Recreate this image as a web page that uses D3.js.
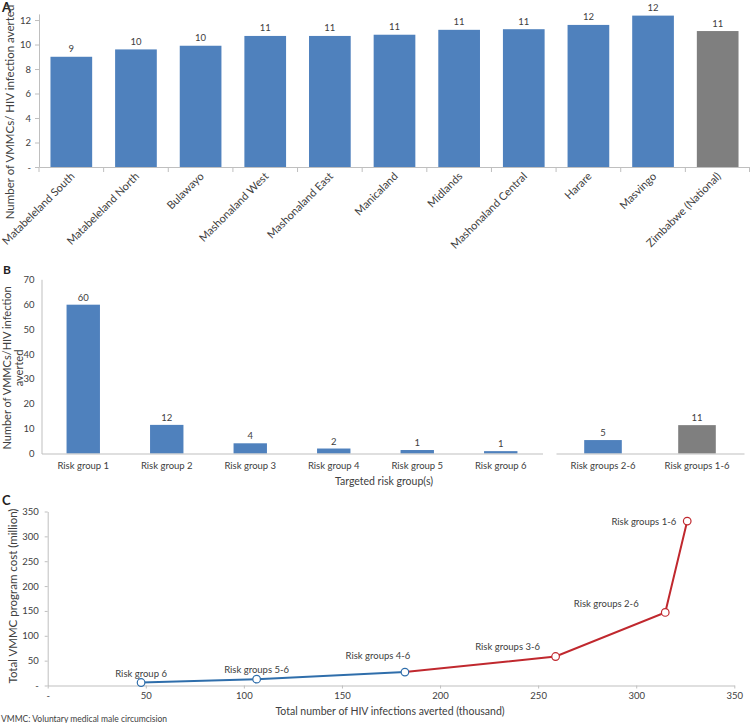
<!DOCTYPE html>
<html>
<head>
<meta charset="utf-8">
<script src="https://cdn.jsdelivr.net/npm/d3@7"></script>
<style>
  html, body { margin: 0; padding: 0; background: #fff; }
  svg { display: block; font-family: "Lato", "Open Sans", sans-serif; }
</style>
</head>
<body>
<svg id="chart" width="750" height="723"></svg>
<script>
// ---------- DATA ----------
// Panel A: VMMCs per HIV infection averted, by province
const provinces = ["Matabeleland South", "Matabeleland North", "Bulawayo", "Mashonaland West",
  "Mashonaland East", "Manicaland", "Midlands", "Mashonaland Central", "Harare", "Masvingo",
  "Zimbabwe (National)"];
const provinceValues = [9.0, 9.6, 9.9, 10.7, 10.7, 10.8, 11.2, 11.25, 11.6, 12.36, 11.1];
const provinceIsNational = [false, false, false, false, false, false, false, false, false, false, true];
const yTicksA = [0, 2, 4, 6, 8, 10, 12];

// Panel B: VMMCs per HIV infection averted, by targeted risk group(s)
const riskGroups = ["Risk group 1", "Risk group 2", "Risk group 3", "Risk group 4", "Risk group 5", "Risk group 6"];
const riskGroupValues = [59.8, 11.5, 4.1, 2.0, 1.4, 0.95];
const combinedGroups = ["Risk groups 2-6", "Risk groups 1-6"];
const combinedValues = [5.4, 11.4];
const combinedIsAll = [false, true];
const yTicksB = [0, 10, 20, 30, 40, 50, 60, 70];

// Panel C: cost vs infections averted
const curveLabels = ["Risk group 6", "Risk groups 5-6", "Risk groups 4-6", "Risk groups 3-6", "Risk groups 2-6", "Risk groups 1-6"];
const infectionsAverted = [47.6, 106.5, 182.1, 258.9, 314.8, 326.0];   // thousand
const programCost = [6.0, 12.8, 27.0, 58.3, 146.9, 330.7];              // million
const curveSegment = ["blue", "blue", "blue", "red", "red", "red"];
const xTicksC = [0, 50, 100, 150, 200, 250, 300, 350];
const yTicksC = [0, 50, 100, 150, 200, 250, 300, 350];

// ---------- STYLE ----------
const BLUE = "#4f81bd", GREY = "#7f7f7f", AXIS = "#bfbfbf", TXT = "#404040";
const LINE_BLUE = "#2f6eab", LINE_RED = "#c0282e";
const zeroDash = v => v === 0 ? "-" : String(v);
const fmtRound = d3.format(".0f");

const svg = d3.select("#chart");

function styleAxis(g, fs) {
  g.select(".domain").attr("stroke", AXIS);
  g.selectAll(".tick line").attr("stroke", AXIS);
  g.selectAll(".tick text").attr("fill", TXT).attr("font-size", fs).attr("font-family", "Lato, sans-serif");
}

// ================= PANEL A =================
{
  const x = d3.scaleBand().domain(provinces).range([39, 750]).paddingInner(0.355).paddingOuter(0.1775);
  const y = d3.scaleLinear().domain([0, 12.5]).range([167, 13.9]);
  const g = svg.append("g");

  g.append("text").attr("x", 2).attr("y", 12).attr("font-weight", "bold").attr("font-size", 13)
    .attr("fill", "#222").text("A");

  // y axis
  const ya = g.append("g").attr("transform", "translate(39,0)")
    .call(d3.axisLeft(y).tickValues(yTicksA).tickFormat(zeroDash).tickSize(4).tickPadding(4).tickSizeOuter(0));
  styleAxis(ya, 9.5);

  // bars
  g.selectAll("rect.a").data(provinces).join("rect")
    .attr("x", d => x(d)).attr("width", x.bandwidth())
    .attr("y", (d, i) => y(provinceValues[i]))
    .attr("height", (d, i) => y(0) - y(provinceValues[i]))
    .attr("fill", (d, i) => provinceIsNational[i] ? GREY : BLUE);

  // value labels
  g.selectAll("text.va").data(provinces).join("text")
    .attr("x", d => x(d) + x.bandwidth() / 2)
    .attr("y", (d, i) => y(provinceValues[i]) - 4.5)
    .attr("text-anchor", "middle").attr("font-size", 9.5).attr("fill", TXT)
    .text((d, i) => fmtRound(provinceValues[i]));

  // x axis (ticks at category boundaries)
  const xa = g.append("g").attr("transform", "translate(0,167)")
    .call(d3.axisBottom(x).tickSize(0).tickSizeOuter(0).tickPadding(0));
  xa.select(".domain").attr("stroke", AXIS);
  xa.selectAll(".tick text")
    .attr("fill", TXT).attr("font-size", 11).attr("font-family", "Lato, sans-serif")
    .attr("y", 0).attr("dy", 0).attr("text-anchor", "end")
    .attr("transform", "translate(4,10) rotate(-45)");
  const step = x.step(), gap = step * x.paddingInner();
  const bounds = provinces.map(d => x(d) - gap / 2).concat([x(provinces[provinces.length - 1]) + x.bandwidth() + gap / 2]);
  g.selectAll("line.bx").data(bounds).join("line")
    .attr("x1", d => Math.min(d, 749.5)).attr("x2", d => Math.min(d, 749.5))
    .attr("y1", 167).attr("y2", 172).attr("stroke", AXIS);

  // y title
  g.append("text").attr("transform", "translate(14,112) rotate(-90)")
    .attr("text-anchor", "middle").attr("font-size", 11.5).attr("fill", TXT)
    .text("Number of VMMCs/ HIV infection averted");
}

// ================= PANEL B =================
{
  const y = d3.scaleLinear().domain([0, 70]).range([453.5, 279.3]);
  const x1 = d3.scaleBand().domain(riskGroups).range([41.5, 542.5]).paddingInner(0.6).paddingOuter(0.3);
  const x2 = d3.scaleBand().domain(combinedGroups).range([556, 744]).paddingInner(0.6).paddingOuter(0.3);
  const g = svg.append("g");

  g.append("text").attr("x", 3).attr("y", 274).attr("font-weight", "bold").attr("font-size", 12)
    .attr("fill", "#222").text("B");

  const ya = g.append("g").attr("transform", "translate(41.5,0)")
    .call(d3.axisLeft(y).tickValues(yTicksB).tickSize(0).tickPadding(7).tickSizeOuter(0));
  styleAxis(ya, 9.5);

  g.selectAll("rect.b1").data(riskGroups).join("rect")
    .attr("x", d => x1(d)).attr("width", x1.bandwidth())
    .attr("y", (d, i) => y(riskGroupValues[i]))
    .attr("height", (d, i) => y(0) - y(riskGroupValues[i]))
    .attr("fill", BLUE);
  g.selectAll("rect.b2").data(combinedGroups).join("rect")
    .attr("x", d => x2(d)).attr("width", x2.bandwidth())
    .attr("y", (d, i) => y(combinedValues[i]))
    .attr("height", (d, i) => y(0) - y(combinedValues[i]))
    .attr("fill", (d, i) => combinedIsAll[i] ? GREY : BLUE);

  g.selectAll("text.v1").data(riskGroups).join("text")
    .attr("x", d => x1(d) + x1.bandwidth() / 2)
    .attr("y", (d, i) => y(riskGroupValues[i]) - 4)
    .attr("text-anchor", "middle").attr("font-size", 9.5).attr("fill", TXT)
    .text((d, i) => fmtRound(riskGroupValues[i]));
  g.selectAll("text.v2").data(combinedGroups).join("text")
    .attr("x", d => x2(d) + x2.bandwidth() / 2)
    .attr("y", (d, i) => y(combinedValues[i]) - 4)
    .attr("text-anchor", "middle").attr("font-size", 9.5).attr("fill", TXT)
    .text((d, i) => fmtRound(combinedValues[i]));

  const xa1 = g.append("g").attr("transform", "translate(0,453.5)")
    .call(d3.axisBottom(x1).tickSize(0).tickSizeOuter(0).tickPadding(9));
  styleAxis(xa1, 9.5);
  const xa2 = g.append("g").attr("transform", "translate(0,453.5)")
    .call(d3.axisBottom(x2).tickSize(0).tickSizeOuter(0).tickPadding(9));
  styleAxis(xa2, 9.5);

  g.append("text").attr("x", 384).attr("y", 484.5).attr("text-anchor", "middle")
    .attr("font-size", 10.5).attr("fill", TXT).text("Targeted risk group(s)");

  const yt = g.append("text").attr("transform", "translate(0,368) rotate(-90)")
    .attr("text-anchor", "middle").attr("font-size", 11).attr("fill", TXT);
  yt.append("tspan").attr("x", 0).attr("y", 11).text("Number of VMMCs/HIV infection");
  yt.append("tspan").attr("x", 0).attr("y", 23).text("averted");
}

// ================= PANEL C =================
{
  const x = d3.scaleLinear().domain([0, 350]).range([47.7, 734.3]);
  const y = d3.scaleLinear().domain([0, 350]).range([685.5, 511.5]);
  const g = svg.append("g");

  g.append("text").attr("x", 2).attr("y", 505).attr("font-weight", "bold").attr("font-size", 13)
    .attr("fill", "#222").text("C");

  const ya = g.append("g").attr("transform", "translate(47.7,0)")
    .call(d3.axisLeft(y).tickValues(yTicksC).tickFormat(zeroDash).tickSize(3).tickPadding(6).tickSizeOuter(0));
  styleAxis(ya, 9.5);
  const xa = g.append("g").attr("transform", "translate(0,685.5)")
    .call(d3.axisBottom(x).tickValues(xTicksC).tickFormat(zeroDash).tickSize(3).tickPadding(4).tickSizeOuter(0));
  styleAxis(xa, 9.5);

  const pts = curveLabels.map((d, i) => ({ label: d, x: infectionsAverted[i], y: programCost[i], seg: curveSegment[i] }));
  const line = d3.line().x(d => x(d.x)).y(d => y(d.y));
  const bluePts = pts.filter(d => d.seg === "blue");
  const redPts = [bluePts[bluePts.length - 1]].concat(pts.filter(d => d.seg === "red"));
  g.append("path").attr("d", line(bluePts)).attr("fill", "none").attr("stroke", LINE_BLUE).attr("stroke-width", 2);
  g.append("path").attr("d", line(redPts)).attr("fill", "none").attr("stroke", LINE_RED).attr("stroke-width", 2);

  g.selectAll("circle.p").data(pts).join("circle")
    .attr("cx", d => x(d.x)).attr("cy", d => y(d.y)).attr("r", 3.8)
    .attr("fill", "#fff").attr("stroke", d => d.seg === "blue" ? LINE_BLUE : LINE_RED).attr("stroke-width", 1.2);

  // label placement relative to each point (layout only)
  const labelDx = [0, 0, -27, -48, -59, -11];
  const labelDy = [-6, -6, -13, -7, -5, 3.5];
  const labelAnchor = ["middle", "middle", "middle", "middle", "middle", "end"];
  g.selectAll("text.pl").data(pts).join("text")
    .attr("x", (d, i) => x(d.x) + labelDx[i]).attr("y", (d, i) => y(d.y) + labelDy[i])
    .attr("text-anchor", (d, i) => labelAnchor[i])
    .attr("font-size", 9.5).attr("fill", TXT).text(d => d.label);

  g.append("text").attr("x", 390).attr("y", 714.5).attr("text-anchor", "middle")
    .attr("font-size", 10.5).attr("fill", TXT).text("Total number of HIV infections averted (thousand)");
  g.append("text").attr("transform", "translate(17,596) rotate(-90)").attr("text-anchor", "middle")
    .attr("font-size", 11.5).attr("fill", TXT).text("Total VMMC program cost (million)");

  g.append("text").attr("x", 1).attr("y", 722).attr("font-size", 8.5).attr("fill", TXT)
    .text("VMMC: Voluntary medical male circumcision");
}
</script>
</body>
</html>
